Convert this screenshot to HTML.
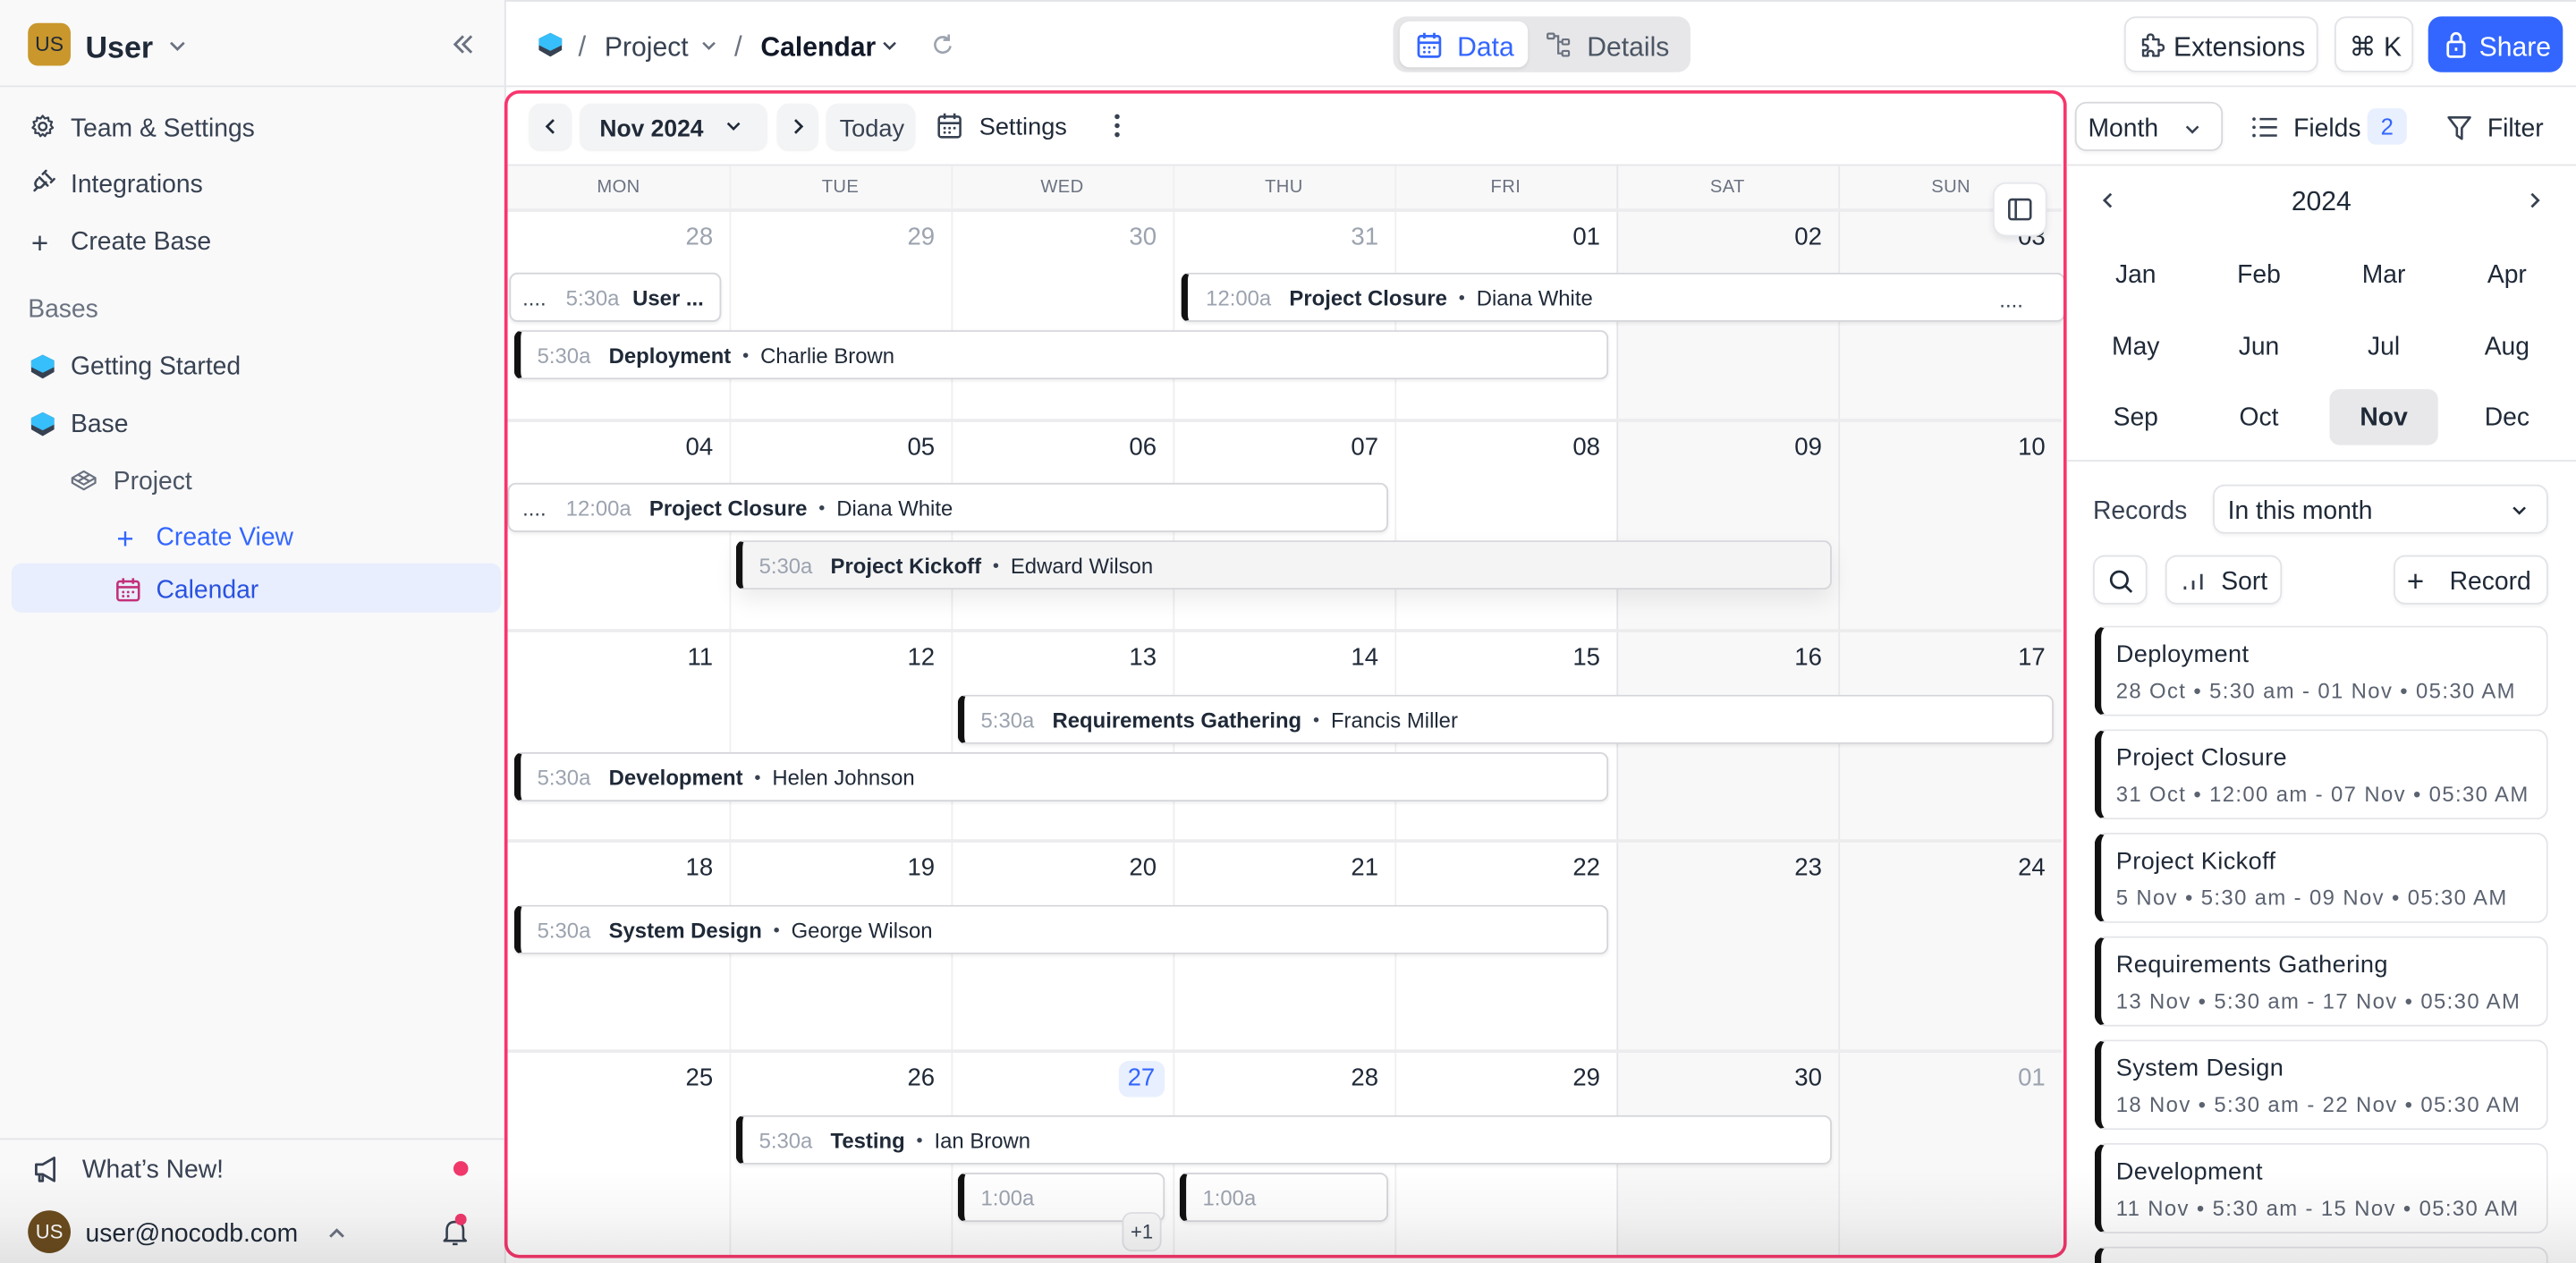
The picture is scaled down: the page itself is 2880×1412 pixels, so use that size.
<!DOCTYPE html>
<html><head><meta charset="utf-8">
<style>
html,body{margin:0;padding:0;width:2880px;height:1412px;overflow:hidden;background:#fff;}
#r{position:absolute;left:0;top:0;width:1568px;height:769px;transform-origin:0 0;transform:scale(1.836735,1.83615);font-family:"Liberation Sans",sans-serif;color:#1f2937;overflow:hidden;background:#fff;}
.a{position:absolute;box-sizing:border-box;}
.t{position:absolute;white-space:nowrap;height:20px;line-height:20px;margin-top:1.5px;}
.sbt{font-size:15.4px;color:#374151;}
.dn{position:absolute;font-size:11px;color:#6b7280;text-align:center;width:135px;top:107px;line-height:14px;letter-spacing:0.2px;}
.num{position:absolute;font-size:15px;color:#1f2937;text-align:right;width:40px;line-height:20px;margin-top:1px;}
.g{color:#9ca3af;}
.ev{position:absolute;height:30px;box-sizing:border-box;background:#fff;border:1px solid #d4d5da;border-radius:5px;box-shadow:0 1px 2px rgba(0,0,0,0.07);font-size:13px;line-height:28px;white-space:nowrap;overflow:hidden;display:flex;align-items:center;padding-top:1px;}
.ev.bar{border-left:4px solid #111;}
.ev .tm{color:#9ca3af;margin-right:11px;}
.ev .ti{font-weight:bold;color:#1f2937;}
.ev .bu{margin:0 7px;color:#374151;font-size:11px;}
.ev .nm{color:#1f2937;}
.btn{position:absolute;box-sizing:border-box;background:#f3f4f6;border-radius:7px;box-shadow:0 1px 1px rgba(0,0,0,0.06);}
.wb{position:absolute;box-sizing:border-box;background:#fff;border:1px solid #e1e3e7;border-radius:7px;box-shadow:0 1px 2px rgba(0,0,0,0.05);}
.mo{position:absolute;width:66px;text-align:center;font-size:15.4px;line-height:34px;height:34px;color:#1f2937;}
.mo.s{line-height:36px;}
.card{position:absolute;left:1275px;width:276px;height:55px;box-sizing:border-box;border:1px solid #e3e4e8;border-left:4px solid #111;border-radius:7px;background:#fff;overflow:hidden;}
.card .c1{position:absolute;left:9px;top:8.5px;font-size:14.8px;color:#1f2937;white-space:nowrap;letter-spacing:0.2px;}
.card .c2{position:absolute;left:9px;top:31px;font-size:13px;color:#5b6270;white-space:nowrap;letter-spacing:0.75px;}
</style></head><body>
<div id="r">

<!-- top line -->
<div class="a" style="left:0;top:0;width:1568px;height:1px;background:#e2e3e6;"></div>

<!-- SIDEBAR -->
<div class="a" style="left:0;top:0;width:308px;height:769px;background:#f9f9fa;border-right:1px solid #e3e4e8;"></div>
<div class="a" style="left:0;top:52px;width:308px;height:1px;background:#e5e6e9;"></div>
<div class="a" style="left:17px;top:14px;width:26px;height:26px;border-radius:6px;background:#c9972c;color:#1f2937;font-size:12.5px;line-height:26px;text-align:center;">US</div>
<div class="t" style="left:52px;top:16px;height:22px;line-height:22px;font-size:18.5px;font-weight:bold;color:#1f2937;">User</div>
<svg class="a" style="left:102px;top:23px" width="12" height="10" viewBox="0 0 12 10"><path d="M2 3 L6 7 L10 3" fill="none" stroke="#6b7280" stroke-width="1.5"/></svg>
<svg class="a" style="left:275px;top:20px" width="14" height="14" viewBox="0 0 14 14"><path d="M7 2 L2 7 L7 12 M12 2 L7 7 L12 12" fill="none" stroke="#6b7280" stroke-width="1.6"/></svg>

<svg class="a" style="left:18px;top:69px" width="16" height="16" viewBox="0 0 16 16"><circle cx="8" cy="8" r="2.3" fill="none" stroke="#374151" stroke-width="1.3"/><path d="M8 1.5 L9.3 3.2 L11.4 2.6 L11.6 4.6 L13.6 5.2 L12.8 7.2 L14.2 8.8 L12.4 9.9 L12.6 12 L10.5 12 L9.4 13.9 L8 12.6 L6.6 13.9 L5.5 12 L3.4 12 L3.6 9.9 L1.8 8.8 L3.2 7.2 L2.4 5.2 L4.4 4.6 L4.6 2.6 L6.7 3.2 Z" fill="none" stroke="#374151" stroke-width="1.2" stroke-linejoin="round"/></svg>
<div class="t sbt" style="left:43px;top:67px;">Team &amp; Settings</div>
<svg class="a" style="left:18px;top:103px" width="16" height="16" viewBox="0 0 16 16"><path d="M3 13 L5 11 M6 5 L11 10 M8 3 L10 1 M13 8 L15 6 M10 3 L13 6 M5 6 C2 9 4 12 7 11 L10 8" fill="none" stroke="#374151" stroke-width="1.4" stroke-linecap="round"/></svg>
<div class="t sbt" style="left:43px;top:101px;">Integrations</div>
<div class="t" style="left:19px;top:136px;font-size:18px;color:#374151;">+</div>
<div class="t sbt" style="left:43px;top:136px;">Create Base</div>

<div class="t" style="left:17px;top:177px;font-size:15.4px;color:#6b7280;">Bases</div>
<svg class="a" style="left:18px;top:215px" width="16" height="17" viewBox="0 0 16 17"><path d="M8 1 L15 4.5 L15 11.5 L8 15.5 L1 11.5 L1 4.5 Z" fill="#374151"/><path d="M8 1 L15 4.5 L15 8.5 L8 12 L1 8.5 L1 4.5 Z" fill="#36bffa"/></svg>
<div class="t sbt" style="left:43px;top:212px;">Getting Started</div>
<svg class="a" style="left:18px;top:250px" width="16" height="17" viewBox="0 0 16 17"><path d="M8 1 L15 4.5 L15 11.5 L8 15.5 L1 11.5 L1 4.5 Z" fill="#374151"/><path d="M8 1 L15 4.5 L15 8.5 L8 12 L1 8.5 L1 4.5 Z" fill="#36bffa"/></svg>
<div class="t sbt" style="left:43px;top:247px;">Base</div>
<svg class="a" style="left:43px;top:286px" width="16" height="14" viewBox="0 0 16 14"><path d="M8 1 L15 5 L8 9 L1 5 Z M1 5 L1 8 L8 12 L15 8 L15 5 M4.5 3 L11.5 7 M11.5 3 L4.5 7" fill="none" stroke="#6b7280" stroke-width="1.2" stroke-linejoin="round"/></svg>
<div class="t sbt" style="left:69px;top:282px;color:#4b5563;">Project</div>
<div class="t" style="left:71px;top:316px;font-size:18px;color:#3366ff;">+</div>
<div class="t" style="left:95px;top:316px;font-size:15.4px;color:#3366ff;">Create View</div>
<div class="a" style="left:7px;top:343px;width:298px;height:30px;border-radius:6px;background:#e8eefd;"></div>
<svg class="a" style="left:70px;top:351px" width="16" height="16" viewBox="0 0 16 16"><rect x="1.5" y="3" width="13" height="11.5" rx="1.5" fill="none" stroke="#c2307a" stroke-width="1.4"/><path d="M1.5 6.5 H14.5 M5 1 V4.5 M11 1 V4.5" stroke="#c2307a" stroke-width="1.4"/><circle cx="5" cy="9.5" r=".8" fill="#c2307a"/><circle cx="8" cy="9.5" r=".8" fill="#c2307a"/><circle cx="11" cy="9.5" r=".8" fill="#c2307a"/><circle cx="5" cy="12" r=".8" fill="#c2307a"/><circle cx="8" cy="12" r=".8" fill="#c2307a"/></svg>
<div class="t" style="left:95px;top:348px;font-size:15.4px;color:#2952e0;">Calendar</div>

<div class="a" style="left:0;top:693px;width:308px;height:1px;background:#e3e4e8;"></div>
<svg class="a" style="left:20px;top:703px" width="18" height="18" viewBox="0 0 18 18"><path d="M2 6 H6 L13 2 V16 L6 12 H2 Z M4 12 V16 H6 V12" fill="none" stroke="#374151" stroke-width="1.5" stroke-linejoin="round"/></svg>
<div class="t" style="left:50px;top:701px;font-size:15.4px;color:#374151;">What’s New!</div>
<div class="a" style="left:276px;top:707px;width:9px;height:9px;border-radius:50%;background:#f0386b;"></div>
<div class="a" style="left:17px;top:737px;width:26px;height:26px;border-radius:50%;background:#6b4c1e;color:#fff;font-size:12px;line-height:26px;text-align:center;">US</div>
<div class="t" style="left:52px;top:740px;font-size:15.4px;color:#1f2937;">user@nocodb.com</div>
<svg class="a" style="left:199px;top:746px" width="12" height="10" viewBox="0 0 12 10"><path d="M2 7 L6 3 L10 7" fill="none" stroke="#6b7280" stroke-width="1.6"/></svg>
<svg class="a" style="left:268px;top:740px" width="18" height="20" viewBox="0 0 18 20"><path d="M4 14 V9 C4 5.5 6 4 9 4 C12 4 14 5.5 14 9 V14 L15.5 15.5 H2.5 Z M7.5 17.5 H10.5" fill="none" stroke="#374151" stroke-width="1.4" stroke-linejoin="round"/></svg>
<div class="a" style="left:277px;top:739px;width:7px;height:7px;border-radius:50%;background:#f0386b;"></div>

<!-- TOP BAR -->
<div class="a" style="left:308px;top:52px;width:1260px;height:1px;background:#e5e6e9;"></div>
<svg class="a" style="left:327px;top:19px" width="16" height="17" viewBox="0 0 16 17"><path d="M8 1 L15 4.5 L15 11.5 L8 15.5 L1 11.5 L1 4.5 Z" fill="#374151"/><path d="M8 1 L15 4.5 L15 8.5 L8 12 L1 8.5 L1 4.5 Z" fill="#36bffa"/></svg>
<div class="t" style="left:352px;top:17px;font-size:17px;color:#6b7280;">/</div>
<div class="t" style="left:368px;top:17px;font-size:16.4px;color:#374151;">Project</div>
<svg class="a" style="left:426px;top:23px" width="11" height="9" viewBox="0 0 11 9"><path d="M2 3 L5.5 6.5 L9 3" fill="none" stroke="#6b7280" stroke-width="1.4"/></svg>
<div class="t" style="left:447px;top:17px;font-size:17px;color:#6b7280;">/</div>
<div class="t" style="left:463px;top:17px;font-size:16.4px;color:#111827;font-weight:bold;">Calendar</div>
<svg class="a" style="left:536px;top:23px" width="11" height="9" viewBox="0 0 11 9"><path d="M2 3 L5.5 6.5 L9 3" fill="none" stroke="#374151" stroke-width="1.4"/></svg>
<svg class="a" style="left:567px;top:20px" width="14" height="15" viewBox="0 0 14 15"><path d="M11.5 8 A4.7 4.7 0 1 1 10 3.8 M10.5 1 V4.3 H7.2" fill="none" stroke="#9ca3af" stroke-width="1.4"/></svg>

<div class="a" style="left:848px;top:10px;width:181px;height:34px;border-radius:8px;background:#e7e7e9;"></div>
<div class="a" style="left:852px;top:13px;width:78px;height:28px;border-radius:6px;background:#fff;box-shadow:0 1px 2px rgba(0,0,0,0.08);"></div>
<svg class="a" style="left:862px;top:19px" width="16" height="17" viewBox="0 0 16 17"><rect x="1.5" y="3" width="13" height="12.5" rx="1.5" fill="none" stroke="#3366ff" stroke-width="1.5"/><path d="M1.5 7 H14.5 M5 1 V4.5 M11 1 V4.5" stroke="#3366ff" stroke-width="1.5"/><circle cx="5" cy="10" r=".8" fill="#3366ff"/><circle cx="8" cy="10" r=".8" fill="#3366ff"/><circle cx="11" cy="10" r=".8" fill="#3366ff"/><circle cx="5" cy="12.7" r=".8" fill="#3366ff"/><circle cx="8" cy="12.7" r=".8" fill="#3366ff"/></svg>
<div class="t" style="left:887px;top:17px;font-size:16.4px;color:#3366ff;">Data</div>
<svg class="a" style="left:941px;top:19px" width="16" height="17" viewBox="0 0 16 17"><rect x="1" y="1.5" width="4" height="3" rx=".6" fill="none" stroke="#6b7280" stroke-width="1.2"/><rect x="10" y="5" width="4" height="3" rx=".6" fill="none" stroke="#6b7280" stroke-width="1.2"/><rect x="10" y="12" width="4" height="3" rx=".6" fill="none" stroke="#6b7280" stroke-width="1.2"/><path d="M5 3 H7.5 V13.5 H10 M7.5 6.5 H10" fill="none" stroke="#6b7280" stroke-width="1.2"/></svg>
<div class="t" style="left:966px;top:17px;font-size:16.4px;color:#4b5563;">Details</div>

<div class="wb" style="left:1293px;top:10px;width:118px;height:34px;"></div>
<svg class="a" style="left:1303px;top:19px" width="16" height="18" viewBox="0 0 16 18"><path d="M6 2 C8 2 8 4 7.5 5 H11 V8.5 C12 8 14 8 14 10 C14 12 12 12 11 11.5 V15 H7.5 C8 14 8 12 6 12 C4 12 4 14 4.5 15 H1.5 V11.5 C2.5 12 4.5 11.5 4.5 10 C4.5 8.5 2.5 8 1.5 8.5 V5 H4.5 C4 4 4 2 6 2 Z" fill="none" stroke="#374151" stroke-width="1.3" stroke-linejoin="round"/></svg>
<div class="t" style="left:1323px;top:17px;font-size:16.4px;color:#1f2937;">Extensions</div>
<div class="wb" style="left:1421px;top:10px;width:48px;height:34px;"></div>
<div class="t" style="left:1430px;top:17px;font-size:16.4px;color:#1f2937;">⌘ K</div>
<div class="a" style="left:1478px;top:10px;width:82px;height:34px;border-radius:8px;background:#3366ff;"></div>
<svg class="a" style="left:1488px;top:18px" width="14" height="18" viewBox="0 0 14 18"><rect x="2" y="7.5" width="10" height="9" rx="1.5" fill="none" stroke="#fff" stroke-width="1.5"/><path d="M4.3 7.5 V5 A2.7 2.7 0 0 1 9.7 5 V7.5" fill="none" stroke="#fff" stroke-width="1.5"/><path d="M7 11 V13" stroke="#fff" stroke-width="1.5"/></svg>
<div class="t" style="left:1509px;top:17px;font-size:16.4px;color:#fff;">Share</div>

<!-- CALENDAR -->
<div class="a" style="left:309px;top:100px;width:946px;height:1px;background:#e5e6e9;"></div>
<div class="a" style="left:309px;top:101px;width:946px;height:27px;background:#f8f8f9;"></div>
<div class="a" style="left:984px;top:128px;width:271px;height:637px;background:#f8f8f9;"></div>
<div class="a" style="left:444px;top:101px;width:1px;height:664px;background:#efeff1;"></div>
<div class="a" style="left:579px;top:101px;width:1px;height:664px;background:#efeff1;"></div>
<div class="a" style="left:714px;top:101px;width:1px;height:664px;background:#efeff1;"></div>
<div class="a" style="left:849px;top:101px;width:1px;height:664px;background:#efeff1;"></div>
<div class="a" style="left:984px;top:101px;width:1px;height:664px;background:#e6e6e9;"></div>
<div class="a" style="left:1119px;top:101px;width:1px;height:664px;background:#e9e9ec;"></div>
<div class="a" style="left:309px;top:127px;width:946px;height:2px;background:#ececee;"></div>
<div class="a" style="left:309px;top:255px;width:946px;height:2px;background:#ececee;"></div>
<div class="a" style="left:309px;top:383px;width:946px;height:2px;background:#ececee;"></div>
<div class="a" style="left:309px;top:511px;width:946px;height:2px;background:#ececee;"></div>
<div class="a" style="left:309px;top:639px;width:946px;height:2px;background:#ececee;"></div>

<div class="dn" style="left:309px;">MON</div>
<div class="dn" style="left:444px;">TUE</div>
<div class="dn" style="left:579px;">WED</div>
<div class="dn" style="left:714px;">THU</div>
<div class="dn" style="left:849px;">FRI</div>
<div class="dn" style="left:984px;">SAT</div>
<div class="dn" style="left:1120px;">SUN</div>

<div class="num g" style="left:394px;top:134px;">28</div>
<div class="num g" style="left:529px;top:134px;">29</div>
<div class="num g" style="left:664px;top:134px;">30</div>
<div class="num g" style="left:799px;top:134px;">31</div>
<div class="num" style="left:934px;top:134px;">01</div>
<div class="num" style="left:1069px;top:134px;">02</div>
<div class="num" style="left:1205px;top:134px;">03</div>
<div class="num" style="left:394px;top:262px;">04</div>
<div class="num" style="left:529px;top:262px;">05</div>
<div class="num" style="left:664px;top:262px;">06</div>
<div class="num" style="left:799px;top:262px;">07</div>
<div class="num" style="left:934px;top:262px;">08</div>
<div class="num" style="left:1069px;top:262px;">09</div>
<div class="num" style="left:1205px;top:262px;">10</div>
<div class="num" style="left:394px;top:390px;">11</div>
<div class="num" style="left:529px;top:390px;">12</div>
<div class="num" style="left:664px;top:390px;">13</div>
<div class="num" style="left:799px;top:390px;">14</div>
<div class="num" style="left:934px;top:390px;">15</div>
<div class="num" style="left:1069px;top:390px;">16</div>
<div class="num" style="left:1205px;top:390px;">17</div>
<div class="num" style="left:394px;top:518px;">18</div>
<div class="num" style="left:529px;top:518px;">19</div>
<div class="num" style="left:664px;top:518px;">20</div>
<div class="num" style="left:799px;top:518px;">21</div>
<div class="num" style="left:934px;top:518px;">22</div>
<div class="num" style="left:1069px;top:518px;">23</div>
<div class="num" style="left:1205px;top:518px;">24</div>
<div class="num" style="left:394px;top:646px;">25</div>
<div class="num" style="left:529px;top:646px;">26</div>
<div class="a" style="left:681px;top:646px;width:28px;height:22px;border-radius:6px;background:#e8effe;"></div>
<div class="num" style="left:664px;top:646px;color:#3366ff;width:39px;">27</div>
<div class="num" style="left:799px;top:646px;">28</div>
<div class="num" style="left:934px;top:646px;">29</div>
<div class="num" style="left:1069px;top:646px;">30</div>
<div class="num g" style="left:1205px;top:646px;">01</div>

<!-- events -->
<div class="ev" style="left:310px;top:166px;width:129px;padding-left:7px;"><span style="color:#374151;margin-right:12px;">....</span><span class="tm" style="margin-right:8px;">5:30a</span><span class="ti">User ...</span></div>
<div class="ev bar" style="left:719px;top:166px;width:538px;padding-left:11px;"><span class="tm">12:00a</span><span class="ti">Project Closure</span><span class="bu">•</span><span class="nm">Diana White</span></div>
<div class="t" style="left:1217px;top:171px;font-size:13px;color:#374151;">....</div>
<div class="ev bar" style="left:313px;top:201px;width:666px;padding-left:10px;"><span class="tm">5:30a</span><span class="ti">Deployment</span><span class="bu">•</span><span class="nm">Charlie Brown</span></div>

<div class="ev" style="left:309px;top:294px;width:536px;padding-left:8px;"><span style="color:#374151;margin-right:12px;">....</span><span class="tm">12:00a</span><span class="ti">Project Closure</span><span class="bu">•</span><span class="nm">Diana White</span></div>
<div class="ev bar" style="left:448px;top:329px;width:667px;padding-left:10px;background:#f4f4f5;box-shadow:0 6px 14px rgba(0,0,0,0.08);"><span class="tm">5:30a</span><span class="ti">Project Kickoff</span><span class="bu">•</span><span class="nm">Edward Wilson</span></div>

<div class="ev bar" style="left:583px;top:423px;width:667px;padding-left:10px;"><span class="tm">5:30a</span><span class="ti">Requirements Gathering</span><span class="bu">•</span><span class="nm">Francis Miller</span></div>
<div class="ev bar" style="left:313px;top:458px;width:666px;padding-left:10px;"><span class="tm">5:30a</span><span class="ti">Development</span><span class="bu">•</span><span class="nm">Helen Johnson</span></div>

<div class="ev bar" style="left:313px;top:551px;width:666px;padding-left:10px;"><span class="tm">5:30a</span><span class="ti">System Design</span><span class="bu">•</span><span class="nm">George Wilson</span></div>

<div class="ev bar" style="left:448px;top:679px;width:667px;padding-left:10px;"><span class="tm">5:30a</span><span class="ti">Testing</span><span class="bu">•</span><span class="nm">Ian Brown</span></div>
<div class="ev bar" style="left:583px;top:714px;width:126px;padding-left:10px;"><span class="tm">1:00a</span></div>
<div class="ev bar" style="left:718px;top:714px;width:127px;padding-left:10px;"><span class="tm">1:00a</span></div>
<div class="a" style="left:683px;top:738px;width:24px;height:24px;border:1px solid #e1e3e7;border-radius:6px;background:#f9f9fa;font-size:12px;line-height:23px;text-align:center;color:#374151;">+1</div>

<!-- toggle button -->
<div class="a" style="left:1213px;top:111px;width:33px;height:33px;border-radius:8px;background:#fff;border:1px solid #e5e7eb;box-shadow:0 2px 4px rgba(0,0,0,0.08);"></div>
<svg class="a" style="left:1222px;top:120px" width="15" height="15" viewBox="0 0 15 15"><rect x="1" y="1.5" width="13" height="12" rx="1.5" fill="none" stroke="#374151" stroke-width="1.4"/><path d="M5 1.5 V13.5" stroke="#374151" stroke-width="1.4"/></svg>

<!-- calendar toolbar -->
<div class="btn" style="left:322px;top:63px;width:26px;height:28px;"></div>
<svg class="a" style="left:330px;top:71px" width="10" height="12" viewBox="0 0 10 12"><path d="M7 2 L3 6 L7 10" fill="none" stroke="#1f2937" stroke-width="1.5"/></svg>
<div class="btn" style="left:353px;top:63px;width:114px;height:28px;"></div>
<div class="t" style="left:365px;top:67px;font-size:14.4px;font-weight:bold;color:#1f2937;">Nov 2024</div>
<svg class="a" style="left:441px;top:72px" width="11" height="9" viewBox="0 0 11 9"><path d="M2 3 L5.5 6.5 L9 3" fill="none" stroke="#1f2937" stroke-width="1.4"/></svg>
<div class="btn" style="left:473px;top:63px;width:25px;height:28px;"></div>
<svg class="a" style="left:481px;top:71px" width="10" height="12" viewBox="0 0 10 12"><path d="M3 2 L7 6 L3 10" fill="none" stroke="#1f2937" stroke-width="1.5"/></svg>
<div class="btn" style="left:503px;top:63px;width:54px;height:28px;"></div>
<div class="t" style="left:511px;top:67px;font-size:14.8px;color:#374151;">Today</div>
<svg class="a" style="left:570px;top:68px" width="16" height="17" viewBox="0 0 16 17"><rect x="1.5" y="3" width="13" height="12.5" rx="1.5" fill="none" stroke="#374151" stroke-width="1.4"/><path d="M1.5 7 H14.5 M5 1 V4.5 M11 1 V4.5" stroke="#374151" stroke-width="1.4"/><circle cx="5" cy="10" r=".8" fill="#374151"/><circle cx="8" cy="10" r=".8" fill="#374151"/><circle cx="11" cy="10" r=".8" fill="#374151"/><circle cx="5" cy="12.7" r=".8" fill="#374151"/><circle cx="8" cy="12.7" r=".8" fill="#374151"/></svg>
<div class="t" style="left:596px;top:66px;font-size:14.8px;color:#1f2937;">Settings</div>
<svg class="a" style="left:676px;top:68px" width="8" height="17" viewBox="0 0 8 17"><circle cx="4" cy="3" r="1.5" fill="#374151"/><circle cx="4" cy="8.5" r="1.5" fill="#374151"/><circle cx="4" cy="14" r="1.5" fill="#374151"/></svg>

<!-- pink border -->
<div class="a" style="left:307px;top:55px;width:951px;height:711px;border:2px solid #f7366c;border-radius:9px;"></div>

<!-- RIGHT PANEL -->
<div class="a" style="left:1258px;top:100px;width:310px;height:1px;background:#e5e6e9;"></div>
<div class="wb" style="left:1263px;top:62px;width:90px;height:30px;border-color:#d6d8dc;"></div>
<div class="t" style="left:1271px;top:67px;font-size:15.4px;color:#1f2937;">Month</div>
<svg class="a" style="left:1329px;top:74px" width="11" height="9" viewBox="0 0 11 9"><path d="M2 3 L5.5 6.5 L9 3" fill="none" stroke="#374151" stroke-width="1.4"/></svg>
<svg class="a" style="left:1370px;top:70px" width="17" height="15" viewBox="0 0 17 15"><path d="M5.5 2.5 H16 M5.5 7.5 H16 M5.5 12.5 H16" stroke="#374151" stroke-width="1.4"/><circle cx="2" cy="2.5" r="1" fill="#374151"/><circle cx="2" cy="7.5" r="1" fill="#374151"/><circle cx="2" cy="12.5" r="1" fill="#374151"/></svg>
<div class="t" style="left:1396px;top:67px;font-size:15.4px;color:#1f2937;">Fields</div>
<div class="a" style="left:1441px;top:66px;width:24px;height:22px;border-radius:5px;background:#e8effe;color:#3366ff;font-size:14px;line-height:23px;text-align:center;">2</div>
<svg class="a" style="left:1489px;top:70px" width="16" height="16" viewBox="0 0 16 16"><path d="M1.5 1.5 H14.5 L9.5 8 V14.5 L6.5 12.5 V8 Z" fill="none" stroke="#374151" stroke-width="1.4" stroke-linejoin="round"/></svg>
<div class="t" style="left:1514px;top:67px;font-size:15.4px;color:#1f2937;">Filter</div>

<svg class="a" style="left:1278px;top:116px" width="10" height="12" viewBox="0 0 10 12"><path d="M7 2 L3 6 L7 10" fill="none" stroke="#374151" stroke-width="1.5"/></svg>
<div class="t" style="left:1373px;top:111px;width:80px;text-align:center;font-size:16.4px;color:#1f2937;">2024</div>
<svg class="a" style="left:1538px;top:116px" width="10" height="12" viewBox="0 0 10 12"><path d="M3 2 L7 6 L3 10" fill="none" stroke="#374151" stroke-width="1.5"/></svg>

<div class="mo s" style="left:1267px;top:150px;">Jan</div>
<div class="mo s" style="left:1342px;top:150px;">Feb</div>
<div class="mo s" style="left:1418px;top:150px;">Mar</div>
<div class="mo s" style="left:1493px;top:150px;">Apr</div>
<div class="mo s" style="left:1267px;top:194px;">May</div>
<div class="mo s" style="left:1342px;top:194px;">Jun</div>
<div class="mo s" style="left:1418px;top:194px;">Jul</div>
<div class="mo s" style="left:1493px;top:194px;">Aug</div>
<div class="mo s" style="left:1267px;top:237px;">Sep</div>
<div class="mo s" style="left:1342px;top:237px;">Oct</div>
<div class="mo s" style="left:1418px;top:237px;background:#e8e8ea;border-radius:6px;font-weight:bold;">Nov</div>
<div class="mo s" style="left:1493px;top:237px;">Dec</div>

<div class="a" style="left:1258px;top:280px;width:310px;height:1px;background:#e5e6e9;"></div>
<div class="t" style="left:1274px;top:300px;font-size:15.4px;color:#374151;">Records</div>
<div class="wb" style="left:1347px;top:295px;width:204px;height:30px;"></div>
<div class="t" style="left:1356px;top:300px;font-size:15.4px;color:#1f2937;">In this month</div>
<svg class="a" style="left:1528px;top:306px" width="11" height="9" viewBox="0 0 11 9"><path d="M2 3 L5.5 6.5 L9 3" fill="none" stroke="#1f2937" stroke-width="1.4"/></svg>

<div class="wb" style="left:1274px;top:338px;width:33px;height:30px;"></div>
<svg class="a" style="left:1283px;top:346px" width="16" height="16" viewBox="0 0 16 16"><circle cx="7" cy="7" r="5" fill="none" stroke="#1f2937" stroke-width="1.5"/><path d="M11 11 L14.5 14.5" stroke="#1f2937" stroke-width="1.5"/></svg>
<div class="wb" style="left:1318px;top:338px;width:71px;height:30px;"></div>
<svg class="a" style="left:1328px;top:347px" width="14" height="14" viewBox="0 0 14 14"><path d="M2 12 V10 M7 12 V6.5 M12 12 V2.5" stroke="#374151" stroke-width="1.5"/></svg>
<div class="t" style="left:1352px;top:343px;font-size:15.4px;color:#1f2937;">Sort</div>
<div class="wb" style="left:1457px;top:338px;width:94px;height:30px;"></div>
<div class="t" style="left:1465px;top:342px;font-size:18px;color:#1f2937;">+</div>
<div class="t" style="left:1491px;top:343px;font-size:15.4px;color:#1f2937;">Record</div>

<div class="card" style="top:381px;"><div class="c1">Deployment</div><div class="c2">28 Oct • 5:30 am - 01 Nov • 05:30 AM</div></div>
<div class="card" style="top:444px;"><div class="c1">Project Closure</div><div class="c2">31 Oct • 12:00 am - 07 Nov • 05:30 AM</div></div>
<div class="card" style="top:507px;"><div class="c1">Project Kickoff</div><div class="c2">5 Nov • 5:30 am - 09 Nov • 05:30 AM</div></div>
<div class="card" style="top:570px;"><div class="c1">Requirements Gathering</div><div class="c2">13 Nov • 5:30 am - 17 Nov • 05:30 AM</div></div>
<div class="card" style="top:633px;"><div class="c1">System Design</div><div class="c2">18 Nov • 5:30 am - 22 Nov • 05:30 AM</div></div>
<div class="card" style="top:696px;"><div class="c1">Development</div><div class="c2">11 Nov • 5:30 am - 15 Nov • 05:30 AM</div></div>
<div class="card" style="top:759px;height:10px;border-bottom:none;border-radius:7px 7px 0 0;"></div>

<!-- bottom fade -->
<div class="a" style="left:0;top:712px;width:1568px;height:57px;background:linear-gradient(to bottom,rgba(0,0,0,0) 0%,rgba(0,0,0,0.03) 50%,rgba(0,0,0,0.09) 100%);pointer-events:none;"></div>

</div>
</body></html>
